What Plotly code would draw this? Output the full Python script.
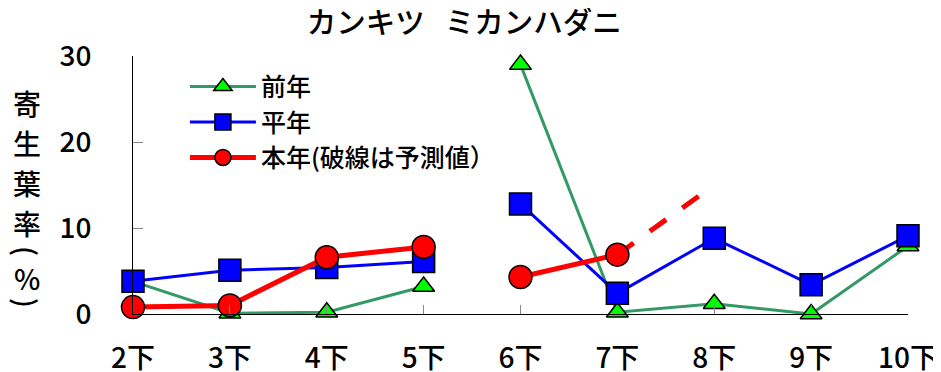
import plotly.graph_objects as go

categories = ["2下", "3下", "4下", "5下", "6下", "7下", "8下", "9下", "10下"]

# 前年 / 平年 / 本年, break between 5下 and 6下
prev_year = [3.8, 0.1, 0.2, 3.2, 29.0, 0.2, 1.2, 0.0, 7.9]
normal_year = [3.8, 5.1, 5.4, 6.1, 12.8, 2.4, 8.8, 3.4, 9.1]
this_year = [0.8, 1.0, 6.6, 7.8, 4.3, 6.9, None, None, None]
# 予測値 (dashed)
forecast_cats = ["7下", "8下"]
forecast_vals = [6.9, 15.0]

split = 4
font_family = "Noto Sans CJK JP"

series = [
    ("前年", prev_year, "#339966", 3, "triangle-up", "#00ff00", 19),
    ("平年", normal_year, "#0000ff", 3, "square", "#0000ff", 22),
    ("本年(破線は予測値）", this_year, "#ff0000", 5, "circle", "#ff0000", 23),
]

# y axis title, written vertically one glyph at a time (page pixels)
ylabel_chars = ["寄", "生", "葉", "率", "(", "%", ")"]
ylabel_px = [103, 143, 183, 223, 251, 278, 303]
ylabel_rot = [0, 0, 0, 0, 90, 0, 90]

# the page body has an 8px margin, so work in figure pixels = page - 8
off = 8
W, H = 941 - off, 372 - off
plot_top, plot_bottom = 56 - off, 314 - off
plot_left, plot_right = 133 - off, 908 - off

plots = []

# forecast line under the markers
plots.append(go.Scatter(
    x=forecast_cats, y=forecast_vals,
    mode='lines',
    line=dict(color='#ff0000', width=5, dash='20px,20px'),
    showlegend=False, cliponaxis=False, hoverinfo='skip'
))

for name, vals, lcolor, lwidth, symbol, mcolor, msize in series:
    for k, (xs, ys) in enumerate([(categories[:split], vals[:split]),
                                  (categories[split:], vals[split:])]):
        plots.append(go.Scatter(
            x=xs, y=ys,
            name=name, showlegend=(k == 0),
            mode='lines+markers',
            line=dict(color=lcolor, width=lwidth),
            marker=dict(symbol=symbol, size=msize, color=mcolor,
                        line=dict(color='black', width=1.5)),
            cliponaxis=False
        ))

fig = go.Figure(data=plots)

fig.update_layout(
    width=W, height=H, autosize=False,
    margin=dict(l=plot_left, r=W - plot_right, t=plot_top, b=H - plot_bottom),
    paper_bgcolor='white', plot_bgcolor='white',
    font=dict(family=font_family, size=28, color='black', weight=500),
    title=dict(text="カンキツ\u00a0\u00a0\u00a0ミカンハダニ", x=0.489, xanchor='center',
               y=(H - 23 + off) / H, yanchor='middle', font=dict(size=29.5, weight=500)),
    legend=dict(x=0.067, y=0.97, xanchor='left', yanchor='top',
                bgcolor='rgba(0,0,0,0)', font=dict(size=25, weight=500),
                tracegroupgap=0, itemwidth=66),
)

fig.update_xaxes(
    type='category', categoryorder='array', categoryarray=categories,
    range=[0, len(categories) - 1], automargin=False,
    showline=True, linecolor='black', linewidth=1,
    ticks='inside', ticklen=9, tickcolor='#888888',
    showgrid=False, zeroline=False, ticklabelstandoff=19,
)
fig.update_yaxes(
    range=[0, 30], dtick=10, automargin=False,
    showline=True, linecolor='black', linewidth=1,
    ticks='inside', ticklen=10, tickcolor='#888888',
    showgrid=False, zeroline=False, ticklabelstandoff=35,
)

for ch, ypx, rot in zip(ylabel_chars, ylabel_px, ylabel_rot):
    fig.add_annotation(
        text=ch, xref='paper', yref='paper', textangle=rot,
        x=(27 - off - plot_left) / (plot_right - plot_left),
        y=(plot_bottom - (ypx - off)) / (plot_bottom - plot_top),
        xanchor='center', yanchor='middle', showarrow=False,
        font=dict(size=28, weight=500),
    )

fig.write_html("out.html")
